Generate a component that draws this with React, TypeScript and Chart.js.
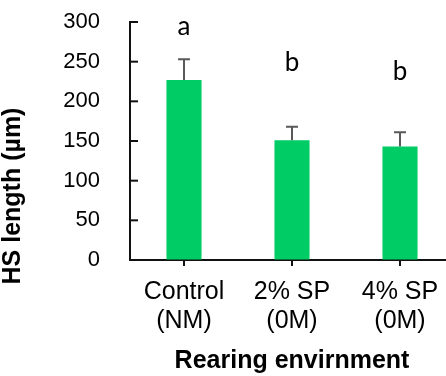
import React, { useEffect, useRef } from "react";
import { Chart, registerables } from "chart.js";

Chart.register(...registerables);

const categories: string[][] = [
  ["Control", "(NM)"],
  ["2% SP", "(0M)"],
  ["4% SP", "(0M)"],
];
const values: number[] = [227, 151, 143];
const errors: number[] = [26, 17, 18];
const letters: string[] = ["a", "b", "b"];
const letterHeights: number[] = [283, 238, 227];
const yTitle = "HS length (µm)";
const xTitle = "Rearing envirnment";
const yMin = 0;
const yMax = 300;
const yStep = 50;

const FONT = "'Liberation Sans', Arial, sans-serif";

const extrasPlugin = {
  id: "extras",
  afterDatasetsDraw(chart: any) {
    const ctx = chart.ctx;
    const meta = chart.getDatasetMeta(0);
    const y = chart.scales.y;
    ctx.save();
    // error bars (upper only)
    ctx.strokeStyle = "#595959";
    ctx.lineWidth = 2;
    meta.data.forEach((bar: any, i: number) => {
      const x = bar.x;
      const yTop = y.getPixelForValue(values[i] + errors[i]);
      const yBase = y.getPixelForValue(values[i]);
      ctx.beginPath();
      ctx.moveTo(x, yBase);
      ctx.lineTo(x, yTop);
      ctx.moveTo(x - 6, yTop);
      ctx.lineTo(x + 6, yTop);
      ctx.stroke();
    });
    // significance letters
    ctx.fillStyle = "#000";
    ctx.font = "26px Lato, 'Open Sans', sans-serif";
    ctx.textAlign = "center";
    ctx.textBaseline = "alphabetic";
    meta.data.forEach((bar: any, i: number) => {
      ctx.fillText(letters[i], bar.x, y.getPixelForValue(letterHeights[i]));
    });
    ctx.restore();
  },
  afterDraw(chart: any) {
    const ctx = chart.ctx;
    const y = chart.scales.y;
    const area = chart.chartArea;
    ctx.save();
    // inward y ticks
    ctx.strokeStyle = "#111";
    ctx.lineWidth = 2;
    y.ticks.forEach((t: any) => {
      if (t.value === yMin) return;
      const py = y.getPixelForValue(t.value);
      ctx.beginPath();
      ctx.moveTo(area.left, py);
      ctx.lineTo(area.left + 8, py);
      ctx.stroke();
    });
    // y title
    ctx.translate(13, 196);
    ctx.rotate(-Math.PI / 2);
    ctx.fillStyle = "#000";
    ctx.font = `bold 25px ${FONT}`;
    ctx.textAlign = "center";
    ctx.textBaseline = "middle";
    ctx.fillText(yTitle, 0, 0);
    ctx.restore();
  },
};

export default function App() {
  const ref = useRef<HTMLCanvasElement | null>(null);
  useEffect(() => {
    if (!ref.current) return;
    const chart = new Chart(ref.current, {
      type: "bar",
      data: {
        labels: categories,
        datasets: [
          {
            data: values,
            backgroundColor: "#00CC66",
            borderWidth: 0,
            categoryPercentage: 1,
            barPercentage: 0.325,
          },
        ],
      },
      options: {
        responsive: false,
        animation: false,
        devicePixelRatio: 1,
        layout: { padding: { top: 22, right: 6, left: 0, bottom: 0 } },
        plugins: {
          legend: { display: false },
          tooltip: { enabled: false },
        },
        scales: {
          x: {
            offset: true,
            grid: {
              display: true,
              drawOnChartArea: false,
              drawTicks: true,
              tickLength: 6,
              color: "#111",
              lineWidth: 2,
              offset: false,
            },
            border: { display: true, color: "#111", width: 2 },
            ticks: {
              color: "#000",
              font: { family: FONT, size: 25, lineHeight: 1.16 },
              padding: 12,
              maxRotation: 0,
              autoSkip: false,
            },
            title: {
              display: true,
              text: xTitle,
              color: "#000",
              font: { family: FONT, size: 25, weight: "bold", lineHeight: 1.2 },
              padding: { top: 0, bottom: 0 },
            },
            afterFit(scale: any) {
              scale.height = 116;
            },
          },
          y: {
            min: yMin,
            max: yMax,
            grid: {
              display: true,
              drawOnChartArea: false,
              drawTicks: true,
              tickLength: 22,
              color: "rgba(0,0,0,0)",
            },
            border: { display: true, color: "#111", width: 2 },
            ticks: {
              stepSize: yStep,
              color: "#000",
              font: { family: FONT, size: 22 },
              padding: 8,
            },
            afterFit(scale: any) {
              scale.width = 130;
            },
          },
        },
      },
      plugins: [extrasPlugin],
    });
    return () => chart.destroy();
  }, []);
  return (
    <div
      style={{
        position: "absolute",
        left: 0,
        top: 0,
        width: 446,
        height: 376,
        overflow: "hidden",
        background: "#fff",
      }}
    >
      <canvas ref={ref} width={460} height={376} style={{ display: "block" }} />
    </div>
  );
}
